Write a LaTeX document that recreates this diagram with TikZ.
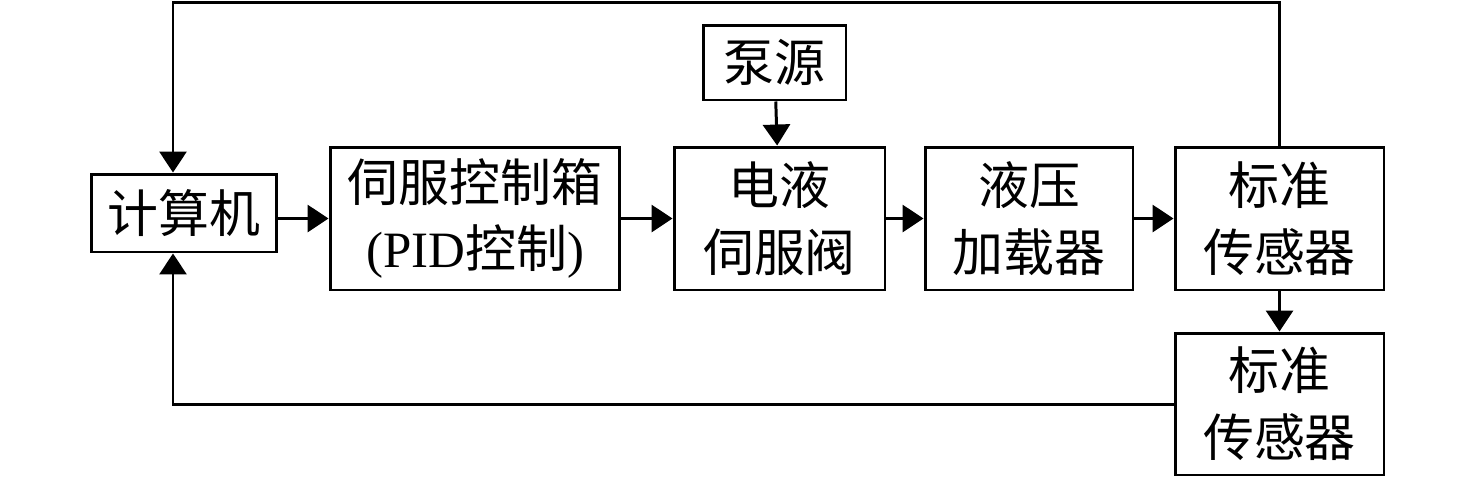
\documentclass[tikz,border=0pt]{standalone}
\usepackage{fontspec}
\setmainfont{Liberation Serif}
\newfontfamily\cjk{Noto Sans CJK SC}
\usetikzlibrary{arrows.meta}

\tikzset{
  block/.style={draw, line width=1.7pt, inner sep=0pt, align=center,
    font=\cjk\fontsize{29}{38}\selectfont},
  link/.style={line width=1.7pt, -{Triangle[length=0.42cm,width=0.54cm]}}
}

\begin{document}
\begin{tikzpicture}[x=0.02cm, y=-0.02cm]
  \useasboundingbox (0,0) rectangle (1476,478);
  % blocks
  \node[block, minimum width=3.72cm, minimum height=1.56cm] (comp) at (184,213) {计算机};
  \node[block, minimum width=5.8cm, minimum height=2.86cm] (ctrl) at (475,218.5)
    {伺服控制箱\\{\rmfamily (PID}控制{\rmfamily )}};
  \node[block, minimum width=2.86cm, minimum height=1.5cm] (pump) at (774.5,62.5) {泵源};
  \node[block, minimum width=4.22cm, minimum height=2.86cm] (valve) at (779.5,218.5) {电液\\伺服阀};
  \node[block, minimum width=4.16cm, minimum height=2.86cm] (load) at (1029,218.5) {液压\\加载器};
  \node[block, minimum width=4.18cm, minimum height=2.86cm] (sensA) at (1279.5,218.5) {标准\\传感器};
  \node[block, minimum width=4.18cm, minimum height=2.84cm] (sensB) at (1279.5,404) {标准\\传感器};
  \coordinate (topL) at (173,2);
  \coordinate (botL) at (173,404);
  % forward path
  \draw[link] (comp.east |- ctrl.west) -- (ctrl.west);
  \draw[link] (ctrl) -- (valve);
  \draw[link] (valve) -- (load);
  \draw[link] (load) -- (sensA);
  \draw[link] (pump) -- (valve);
  \draw[link] (sensA) -- (sensB);
  % feedback
  \draw[link] (sensA.north) |- (topL) -- (topL |- comp.north);
  \draw[link] (sensB.west) -- (botL) -- (botL |- comp.south);
\end{tikzpicture}
\end{document}
